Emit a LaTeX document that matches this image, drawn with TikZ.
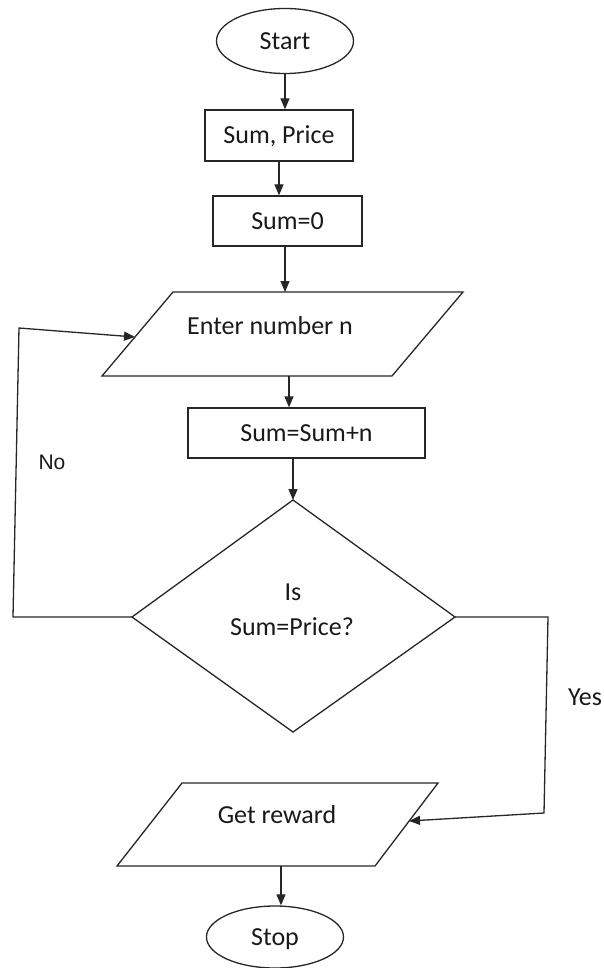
\documentclass[tikz,border=0pt]{standalone}
\usepackage{fontspec}
\setmainfont{Carlito}
\newfontfamily\arialf{Liberation Sans}
\usetikzlibrary{arrows.meta,shapes.geometric}
\begin{document}
\begin{tikzpicture}[x=1pt,y=-1pt,
  line/.style={draw=black!85,line width=1.3pt},
  conn/.style={line,-{Triangle[length=11pt,width=9pt]}},
  txt/.style={font=\fontsize{26}{31}\selectfont,text=black!90,inner sep=0pt,
              text height=16.7pt,text depth=0pt},
  terminal/.style={ellipse,line,txt},
  proc/.style={rectangle,line,txt}
]
\useasboundingbox (0,0) rectangle (603,968);

% nodes
\node[terminal,minimum width=137pt,minimum height=65pt] (start) at (285,41) {Start};
\node[proc,minimum width=148pt,minimum height=51pt] (sp) at (279,135.5) {Sum, Price};
\node[proc,minimum width=149pt,minimum height=50pt] (s0) at (287.5,221) {Sum=0};

% input parallelogram
\coordinate (etl) at (173,292);
\coordinate (etr) at (463,292);
\coordinate (ebr) at (392,376);
\coordinate (ebl) at (102,376);
\draw[line] (etl) -- (etr) -- (ebr) -- (ebl) -- cycle;
\node[txt] (enter) at (270,326) {Enter number n};
\coordinate (entertop) at (285,292);
\coordinate (enterbot) at (289,376);
\coordinate (enterleft) at (135,337);

\node[proc,minimum width=237pt,minimum height=50pt] (upd) at (306.5,433) {Sum=Sum+n};

% decision diamond
\coordinate (dt) at (293,500);
\coordinate (dr) at (455,617);
\coordinate (db) at (293,732);
\coordinate (dl) at (132,617);
\draw[line] (dt) -- (dr) -- (db) -- (dl) -- cycle;
\node[txt] (cond1) at (293,592) {Is};
\node[txt] (cond2) at (292,627) {Sum=Price?};

% output parallelogram
\coordinate (rtl) at (182,783);
\coordinate (rtr) at (438,783);
\coordinate (rbr) at (375,866);
\coordinate (rbl) at (117,866);
\draw[line] (rtl) -- (rtr) -- (rbr) -- (rbl) -- cycle;
\node[txt] (reward) at (277,815) {Get reward};
\coordinate (rewardright) at (409,821);
\coordinate (rewardbot) at (281,866);

\node[terminal,minimum width=137pt,minimum height=62pt] (stop) at (275,937) {Stop};

% loop corners
\coordinate (nob) at (13,617);
\coordinate (not) at (19,328);
\coordinate (yest) at (548,617);
\coordinate (yesb) at (544,813);

% connectors
\draw[conn] (start.south) -- (start.south |- sp.north);
\draw[conn] (sp.south) -- (sp.south |- s0.north);
\draw[conn] (entertop |- s0.south) -- (entertop);
\draw[conn] (enterbot) -- (enterbot |- upd.north);
\draw[conn] (dt |- upd.south) -- (dt);
\draw[conn] (dl) -- (nob) -- (not) -- (enterleft);
\draw[conn] (dr) -- (yest) -- (yesb) -- (rewardright);
\draw[conn] (rewardbot) -- (rewardbot |- stop.north);

% labels
\node[inner sep=0pt,text=black!90,font=\arialf\fontsize{21}{21}\selectfont,
      text height=15pt,text depth=0pt] (no) at (52,462) {No};
\node[txt] (yes) at (585,697) {Yes};
\end{tikzpicture}
\end{document}
